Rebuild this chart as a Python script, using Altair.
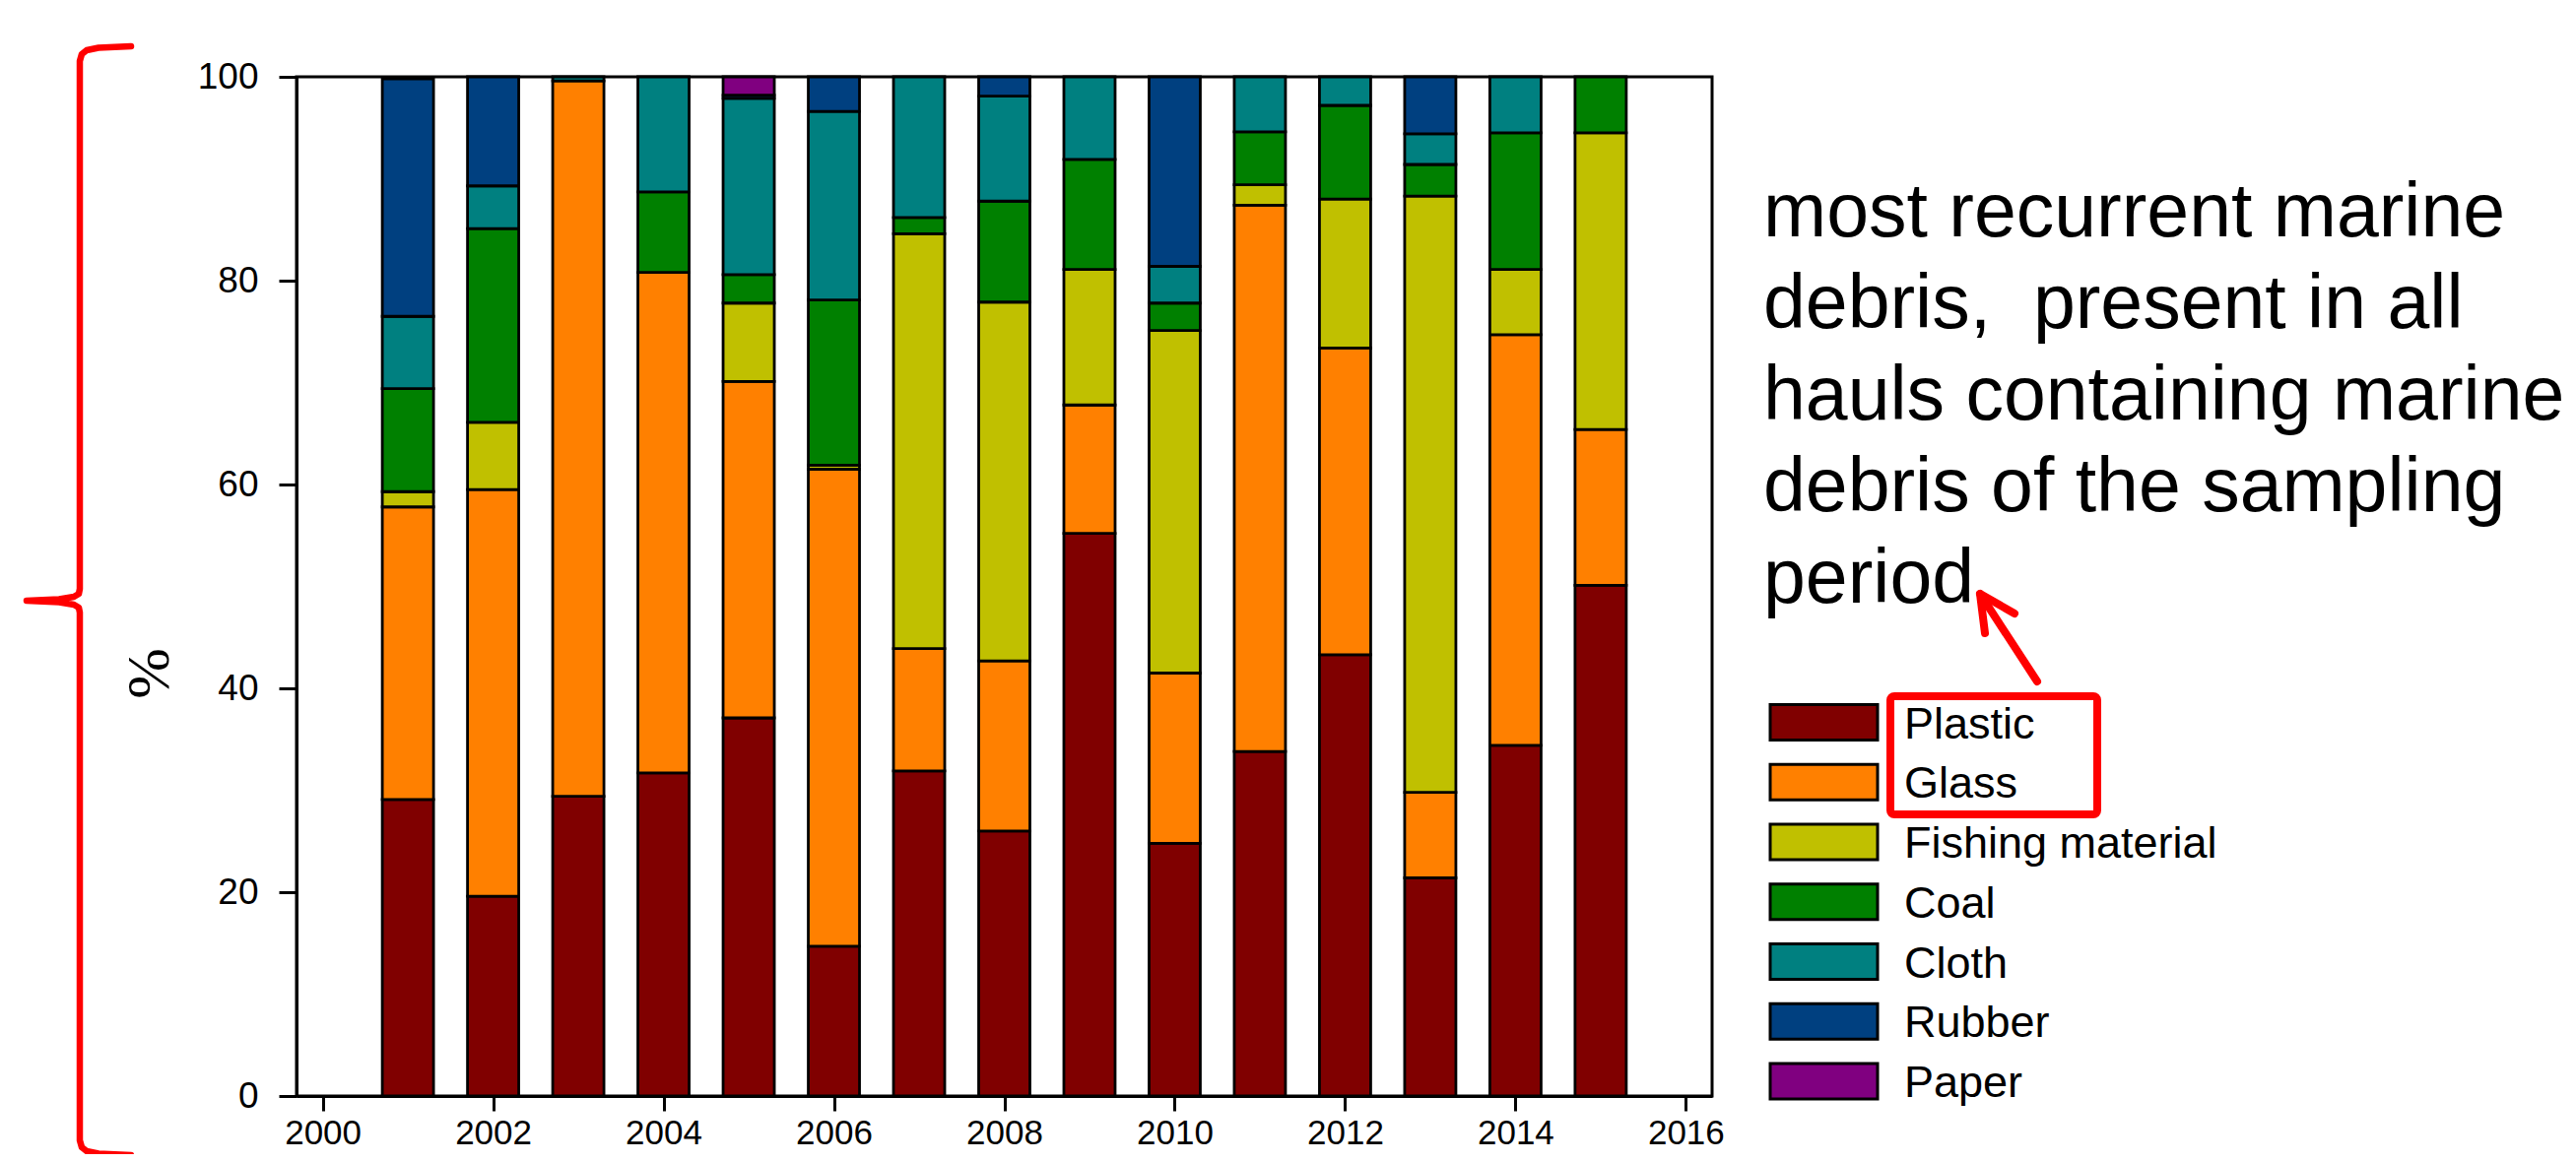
import altair as alt
import pandas as pd

# ---------------- data ----------------
years = list(range(2001, 2016))
categories = ["Plastic", "Glass", "Fishing material", "Coal", "Cloth", "Rubber", "Paper"]
colors = ["#800000", "#FF8000", "#C0C000", "#008000", "#008080", "#004080", "#800080"]

plastic = [29.1, 19.6, 29.4, 31.7, 37.1, 14.7, 31.9, 26.0, 55.2, 24.8, 33.8, 43.3, 21.4, 34.4, 50.1]
glass   = [28.7, 39.9, 70.2, 49.1, 33.0, 46.8, 12.0, 16.7, 12.6, 16.7, 53.6, 30.1, 8.4, 40.3, 15.3]
fishing = [1.5, 6.6, 0.0, 0.0, 7.7, 0.4, 40.7, 35.2, 13.3, 33.6, 2.0, 14.6, 58.5, 6.4, 29.1]
coal    = [10.1, 19.0, 0.0, 7.9, 2.8, 16.2, 1.6, 9.9, 10.8, 2.7, 5.2, 9.2, 3.1, 13.4, 5.5]
cloth   = [7.1, 4.2, 0.4, 11.3, 17.3, 18.5, 13.8, 10.3, 8.1, 3.6, 5.4, 2.8, 3.0, 5.5, 0.0]
rubber  = [23.3, 10.7, 0.0, 0.0, 0.3, 3.4, 0.0, 1.9, 0.0, 18.6, 0.0, 0.0, 5.6, 0.0, 0.0]
paper   = [0.0, 0.0, 0.0, 0.0, 1.8, 0.0, 0.0, 0.0, 0.0, 0.0, 0.0, 0.0, 0.0, 0.0, 0.0]

x_ticks = [2000, 2002, 2004, 2006, 2008, 2010, 2012, 2014, 2016]
y_ticks = [0, 20, 40, 60, 80, 100]
y_title = "%"
note_lines = [
    "most recurrent marine",
    "debris,\u00a0 present in all",
    "hauls containing marine",
    "debris of the sampling",
    "period",
]

# annotation geometry (pixels, relative to the plot origin)
brace_x = [-168, -201, -213, -218, -220, -220, -221, -226, -241, -274, -241, -226, -221, -220, -220, -218, -213, -201, -168]
brace_y = [-31, -29.5, -27, -23, -16, 520, 525, 528, 530.5, 532, 533.5, 536, 539, 544, 1080, 1087, 1091, 1093.5, 1095]
arrow_part = ["shaft", "shaft", "head", "head", "head"]
arrow_x = [1709, 1767, 1714, 1709, 1744]
arrow_y = [525, 614, 565, 525, 545]

# ---------------- layout ----------------
W, H = 1437, 1035
PAD_L, PAD_T = 293, 70
TOTAL_W, TOTAL_H = 2599, 1164

series = [plastic, glass, fishing, coal, cloth, rubber, paper]
rows = []
for ci, (cat, vals) in enumerate(zip(categories, series)):
    for yr, v in zip(years, vals):
        if v > 0:
            rows.append({"year": yr, "cat": cat, "value": v, "ord": ci})
df = pd.DataFrame(rows)

bars = alt.Chart(df).mark_bar(size=52, stroke="black", strokeWidth=2.8, orient="vertical").encode(
    x=alt.X("year:Q",
            scale=alt.Scale(domain=[1999.75, 2016.25], nice=False, zero=False),
            axis=alt.Axis(values=x_ticks, format="d", tickSize=15, labelPadding=5, labelFontSize=35,
                          title=None, grid=False, labelFlush=False, labelOverlap=False)),
    y=alt.Y("value:Q", stack="zero",
            scale=alt.Scale(domain=[0, 100], nice=False),
            axis=alt.Axis(values=y_ticks, tickSize=18, labelPadding=21, title=None, grid=False)),
    color=alt.Color("cat:N", scale=alt.Scale(domain=categories, range=colors), legend=None),
    order=alt.Order("ord:Q", sort="ascending"),
)

px_x = alt.Scale(domain=[0, W], range=[0, W], nice=False, zero=False)
px_y = alt.Scale(domain=[0, H], range=[0, H], nice=False, zero=False)

brace_df = pd.DataFrame({"px": brace_x, "py": brace_y, "idx": list(range(len(brace_x)))})
brace = alt.Chart(brace_df).mark_line(color="#FF0000", strokeWidth=6.5, strokeCap="round",
                                      strokeJoin="round").encode(
    x=alt.X("px:Q", scale=px_x, axis=None),
    y=alt.Y("py:Q", scale=px_y, axis=None),
    order="idx:Q",
)

arrow_df = pd.DataFrame({"px": arrow_x, "py": arrow_y, "part": arrow_part,
                         "idx": list(range(len(arrow_x)))})
arrow = alt.Chart(arrow_df).mark_line(color="#FF0000", strokeWidth=8, strokeCap="round",
                                      strokeJoin="round").encode(
    x=alt.X("px:Q", scale=px_x, axis=None),
    y=alt.Y("py:Q", scale=px_y, axis=None),
    detail="part:N",
    order="idx:Q",
)

box = alt.Chart(pd.DataFrame({"k": [0]})).mark_rect(
    fill="white", fillOpacity=0, stroke="#FF0000", strokeWidth=8, cornerRadius=4
).encode(x=alt.value(1618), x2=alt.value(1828), y=alt.value(629), y2=alt.value(749))

note = alt.Chart(pd.DataFrame({"t": ["\n".join(note_lines)]})).mark_text(
    align="left", baseline="alphabetic", fontSize=77, lineHeight=93,
    font="Liberation Sans", color="black", lineBreak="\n"
).encode(x=alt.value(1489), y=alt.value(162), text="t:N")

ytitle = alt.Chart(pd.DataFrame({"t": [y_title]})).mark_text(
    angle=270, fontSize=62, font="Liberation Serif", align="center", baseline="middle", color="black"
).encode(x=alt.value(-149), y=alt.value(606), text="t:N")

legend_layers = []
for i, (cat, col) in enumerate(zip(categories, colors)):
    yc = 655.5 + i * 60.75
    d = pd.DataFrame({"label": [cat]})
    legend_layers.append(
        alt.Chart(d).mark_rect(fill=col, stroke="black", strokeWidth=3).encode(
            x=alt.value(1496), x2=alt.value(1605), y=alt.value(yc - 18), y2=alt.value(yc + 18))
    )
    legend_layers.append(
        alt.Chart(d).mark_text(align="left", baseline="alphabetic", fontSize=45,
                               font="Liberation Sans", color="black").encode(
            x=alt.value(1632), y=alt.value(yc + 16), text="label:N")
    )

chart = alt.layer(bars, brace, arrow, box, note, ytitle, *legend_layers).resolve_scale(
    x="independent", y="independent"
).properties(
    width=W, height=H,
    padding={"left": PAD_L, "top": PAD_T, "right": TOTAL_W - PAD_L - W, "bottom": TOTAL_H - PAD_T - H},
    autosize=alt.AutoSizeParams(type="none"),
    background="white",
).configure_view(
    stroke="black", strokeWidth=3
).configure_axis(
    labelFont="Liberation Sans", labelFontSize=37, labelColor="black",
    domainColor="black", domainWidth=3, tickColor="black", tickWidth=3,
)

chart.save("out.html", embed_options={"renderer": "svg", "actions": False})
